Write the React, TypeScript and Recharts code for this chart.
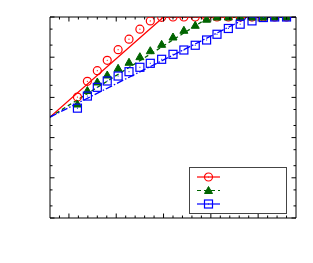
import { ComposedChart, Line, XAxis, YAxis, Legend } from 'recharts';

// simulated points (markers)
const SIM_X = [0.9, 1.95, 3.0, 4.05, 5.2, 6.35, 7.5, 8.6, 9.8, 11.0, 12.15, 13.35, 14.55, 15.65, 16.85, 18.1, 19.35, 20.55, 21.75, 23.0];
const RED_SIM = [0.0102, 0.0251, 0.0462, 0.0837, 0.154, 0.28, 0.497, 0.8, 0.98, 1, 1, 1, 1, 1, 1, 1, 1, 1, 1, 1];
const GREEN_SIM = [0.00685, 0.0148, 0.0242, 0.0361, 0.053, 0.0747, 0.103, 0.145, 0.209, 0.318, 0.467, 0.622, 0.881, 1, 1, 1, 1, 1, 1, 1];
const BLUE_SIM = [0.0054, 0.0108, 0.0178, 0.0256, 0.034, 0.0436, 0.0561, 0.0705, 0.0887, 0.118, 0.151, 0.198, 0.268, 0.372, 0.518, 0.662, 0.8, 0.97, 1, 1];

// theory lines
const RED_LINE_X = [-2, 10, 24];
const GREEN_LINE_X = [-2, 14.85, 24];
const BLUE_LINE_X = [-2, 19, 24];
const LINE_Y = [0.00324, 1, 1];

const X_TICKS = [-1, 0, 1, 2, 3, 4, 5, 6, 7, 8, 9, 10, 11, 12, 13, 14, 15, 16, 17, 18, 19, 20, 21, 22, 23];
const X_MAJOR = [0, 5, 10, 15, 20];
const Y_TICKS = [1e-5, 2e-5, 5e-5, 1e-4, 2e-4, 5e-4, 1e-3, 2e-3, 5e-3, 1e-2, 2e-2, 5e-2, 0.1, 0.2, 0.5, 1];
const Y_MAJOR = [1e-5, 1e-4, 1e-3, 1e-2, 0.1, 1];

const RED = '#ff0000';
const GREEN = '#006400';
const BLUE = '#0000ff';

const toPoints = (xs: number[], ys: number[]) => xs.map((x, i) => ({ x, y: ys[i] }));

const isMajor = (list: number[], v: number) => list.some((m) => Math.abs(m - v) < 1e-9);

const xTick = (dir: number) => (props: any) => {
  const { x, y, payload } = props;
  const len = isMajor(X_MAJOR, payload.value) ? 4.5 : 2.5;
  return <line x1={x} y1={y} x2={x} y2={y + dir * len} stroke="#000" strokeWidth={1} />;
};

const yTick = (dir: number) => (props: any) => {
  const { x, y, payload } = props;
  const len = isMajor(Y_MAJOR, payload.value) ? 4.5 : 2.5;
  return <line x1={x} y1={y} x2={x + dir * len} y2={y} stroke="#000" strokeWidth={1} />;
};

const circleMark = (color: string) => (p: any) => (
  <g key={`c-${p.index}`}>
    <circle cx={p.cx} cy={p.cy} r={4} fill="none" stroke={color} strokeWidth={1.2} />
    <circle cx={p.cx} cy={p.cy} r={0.6} fill={color} />
  </g>
);

const triMark = (color: string) => (p: any) => (
  <path
    key={`t-${p.index}`}
    d={`M${p.cx},${p.cy - 4} L${p.cx + 4},${p.cy + 3} L${p.cx - 4},${p.cy + 3} Z`}
    fill={color}
    stroke={color}
  />
);

const squareMark = (color: string) => (p: any) => (
  <g key={`s-${p.index}`}>
    <rect x={p.cx - 4} y={p.cy - 4} width={8} height={8} fill="none" stroke={color} strokeWidth={1.2} />
    <rect x={p.cx - 0.5} y={p.cy - 0.5} width={1} height={1} fill={color} />
  </g>
);

const LEGEND_ITEMS = [
  { color: RED, dash: undefined, mark: circleMark(RED) },
  { color: GREEN, dash: '4 3', mark: triMark(GREEN) },
  { color: BLUE, dash: undefined, mark: squareMark(BLUE) },
];

const LegendBox = () => (
  <div style={{ width: 98, height: 47, border: '1px solid #444', background: '#fff', boxSizing: 'border-box' }}>
    <svg width={96} height={45}>
      {LEGEND_ITEMS.map((it, i) => {
        const cy = 9 + i * 13.5;
        return (
          <g key={i}>
            <line x1={7} y1={cy} x2={30} y2={cy} stroke={it.color} strokeWidth={1.2} strokeDasharray={it.dash} />
            {it.mark({ cx: 18.5, cy, index: i })}
          </g>
        );
      })}
    </svg>
  </div>
);

const axisCommon = {
  tickSize: 0,
  tickMargin: 0,
  tickLine: false,
  interval: 0 as const,
  axisLine: { stroke: '#000' },
  allowDataOverflow: true,
};

export default function App() {
  return (
    <ComposedChart width={300} height={250} margin={{ top: 8, right: 11, bottom: 39, left: 41 }}>
      <XAxis xAxisId="b" dataKey="x" type="number" domain={[-2, 24]} ticks={X_TICKS} height={1} tick={xTick(-1)} {...axisCommon} />
      <XAxis xAxisId="t" orientation="top" dataKey="x" type="number" domain={[-2, 24]} ticks={X_TICKS} height={1} tick={xTick(1)} {...axisCommon} />
      <YAxis yAxisId="l" type="number" scale="log" domain={[1e-5, 1]} ticks={Y_TICKS} width={1} tick={yTick(1)} {...axisCommon} />
      <YAxis yAxisId="r" orientation="right" type="number" scale="log" domain={[1e-5, 1]} ticks={Y_TICKS} width={1} tick={yTick(-1)} {...axisCommon} />
      <Line xAxisId="b" yAxisId="l" data={toPoints(RED_LINE_X, LINE_Y)} dataKey="y" stroke={RED} strokeWidth={1.3} dot={false} isAnimationActive={false} />
      <Line xAxisId="b" yAxisId="l" data={toPoints(GREEN_LINE_X, LINE_Y)} dataKey="y" stroke={GREEN} strokeWidth={1.3} strokeDasharray="4 3" dot={false} isAnimationActive={false} />
      <Line xAxisId="b" yAxisId="l" data={toPoints(BLUE_LINE_X, LINE_Y)} dataKey="y" stroke={BLUE} strokeWidth={1.3} strokeDasharray="7 2 1.5 2" dot={false} isAnimationActive={false} />
      <Line xAxisId="b" yAxisId="l" data={toPoints(SIM_X, RED_SIM)} dataKey="y" stroke="none" dot={circleMark(RED)} isAnimationActive={false} />
      <Line xAxisId="b" yAxisId="l" data={toPoints(SIM_X, GREEN_SIM)} dataKey="y" stroke="none" dot={triMark(GREEN)} isAnimationActive={false} />
      <Line xAxisId="b" yAxisId="l" data={toPoints(SIM_X, BLUE_SIM)} dataKey="y" stroke="none" dot={squareMark(BLUE)} isAnimationActive={false} />
      <Legend
        layout="vertical"
        align="center"
        verticalAlign="middle"
        content={() => <LegendBox />}
        wrapperStyle={{ left: 181, top: 159, width: 98, height: 47 }}
      />
    </ComposedChart>
  );
}
